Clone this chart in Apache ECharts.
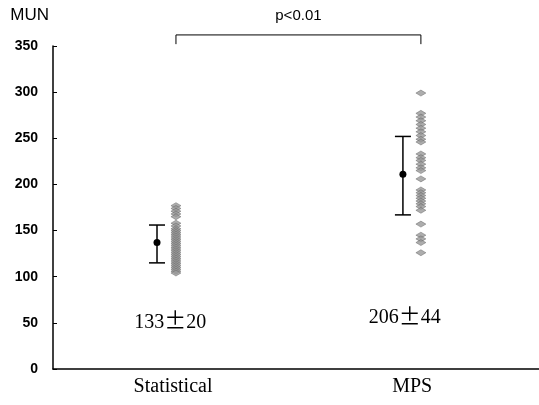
<!DOCTYPE html>
<html><head><meta charset="utf-8">
<script src="https://cdn.jsdelivr.net/npm/echarts@6/dist/echarts.min.js"></script>
<style>html,body{margin:0;padding:0;background:#fff}#c{width:539px;height:405px}</style>
</head><body><div id="c"></div>
<script>
const categories = ['Statistical', 'MPS'];
const categoryX = [2.47, 7.39];
const scatterX = [2.53, 7.57];
const errorX = [2.14, 7.20];
const means = [137, 211];
const lows = [115, 167];
const highs = [156, 252];
const statValues = [177,174,171,168,165,158,155,152,150,148,146,144,142,140,138,136,134,132,130,128,126,124,122,120,118,116,114,112,110,108,106,104];
const mpsValues = [299,277,273,269,265,261,257,253,249,246,233,229,226,222,218,215,206,194,191,188,185,182,179,176,172,157,145,141,137,126];
const summaryParts = [['133', '20'], ['206', '44']];
const summaryPos = [[2.41, 50], [7.24, 55]];
const pText = 'p<0.01';

const scatterData = [];
statValues.forEach(v => scatterData.push([scatterX[0], v]));
mpsValues.forEach(v => scatterData.push([scatterX[1], v]));

const chart = echarts.init(document.getElementById('c'));
chart.setOption({
  animation: false,
  grid: {left: 53, right: 0, top: 46, bottom: 36},
  xAxis: {
    type: 'value', min: 0, max: 10,
    axisLine: {show: true, lineStyle: {color: '#000', width: 1.5}},
    axisTick: {show: false},
    splitLine: {show: false},
    axisLabel: {
      customValues: categoryX,
      formatter: v => categories[categoryX.indexOf(v)] || '',
      fontFamily: 'Liberation Serif', fontSize: 20, color: '#000', margin: 8
    }
  },
  yAxis: {
    type: 'value', min: 0, max: 350, interval: 50,
    axisLine: {show: true, lineStyle: {color: '#000', width: 1.5}},
    axisTick: {show: true, inside: true, length: 4, lineStyle: {color: '#000'}},
    splitLine: {show: false},
    axisLabel: {fontFamily: 'Liberation Sans', fontWeight: 'bold', fontSize: 14, color: '#000', margin: 15},
    name: 'MUN', nameLocation: 'end', nameGap: 22,
    nameTextStyle: {fontFamily: 'Liberation Sans', fontSize: 17, color: '#000', align: 'right', padding: [0, 4, 0, 0]}
  },
  series: [
    {
      type: 'scatter', data: scatterData, symbol: 'diamond', symbolSize: [10, 6],
      itemStyle: {color: '#999', borderColor: '#555', borderWidth: 0.5}
    },
    {
      type: 'custom', clip: false,
      data: categories.map((c, i) => [errorX[i], means[i], lows[i], highs[i]]),
      renderItem: (params, api) => {
        const x = api.value(0);
        const p = api.coord([x, api.value(1)]);
        const lo = api.coord([x, api.value(2)]);
        const hi = api.coord([x, api.value(3)]);
        const st = {stroke: '#000', lineWidth: 1.5};
        return {type: 'group', children: [
          {type: 'line', shape: {x1: lo[0], y1: lo[1], x2: hi[0], y2: hi[1]}, style: st},
          {type: 'line', shape: {x1: lo[0]-8, y1: lo[1], x2: lo[0]+8, y2: lo[1]}, style: st},
          {type: 'line', shape: {x1: hi[0]-8, y1: hi[1], x2: hi[0]+8, y2: hi[1]}, style: st},
          {type: 'circle', shape: {cx: p[0], cy: p[1], r: 3.5}, style: {fill: '#000'}}
        ]};
      }
    },
    {
      type: 'custom', clip: false, silent: true,
      data: summaryPos.map((p, i) => [p[0], p[1], i]),
      renderItem: (params, api) => {
        const c = api.coord([api.value(0), api.value(1)]);
        const parts = summaryParts[api.value(2)];
        return {type: 'text', style: {text: '{n|' + parts[0] + '}{pm|\u00b1}{n|' + parts[1] + '}', x: c[0], y: c[1],
          align: 'center', verticalAlign: 'middle', fill: '#000',
          rich: {n: {fontFamily: 'Liberation Serif', fontSize: 20, fill: '#000'},
                 pm: {fontFamily: 'Noto Sans CJK JP', fontSize: 22, fill: '#000', padding: [0, 0, 6, 0]}}}};
      }
    },
    {
      type: 'custom', clip: false, silent: true,
      data: [[scatterX[0], scatterX[1], 362, 352]],
      renderItem: (params, api) => {
        const a = api.coord([api.value(0), api.value(2)]);
        const b = api.coord([api.value(1), api.value(2)]);
        const a2 = api.coord([api.value(0), api.value(3)]);
        const st = {stroke: '#000', lineWidth: 1};
        return {type: 'group', children: [
          {type: 'line', shape: {x1: a[0], y1: a[1], x2: b[0], y2: b[1]}, style: st},
          {type: 'line', shape: {x1: a[0], y1: a[1], x2: a[0], y2: a2[1]}, style: st},
          {type: 'line', shape: {x1: b[0], y1: b[1], x2: b[0], y2: a2[1]}, style: st},
          {type: 'text', style: {text: pText, x: (a[0]+b[0])/2, y: a[1]-19, align: 'center', verticalAlign: 'middle',
            fontFamily: 'Liberation Sans', fontSize: 15, fill: '#000'}}
        ]};
      }
    }
  ]
});
</script></body></html>
